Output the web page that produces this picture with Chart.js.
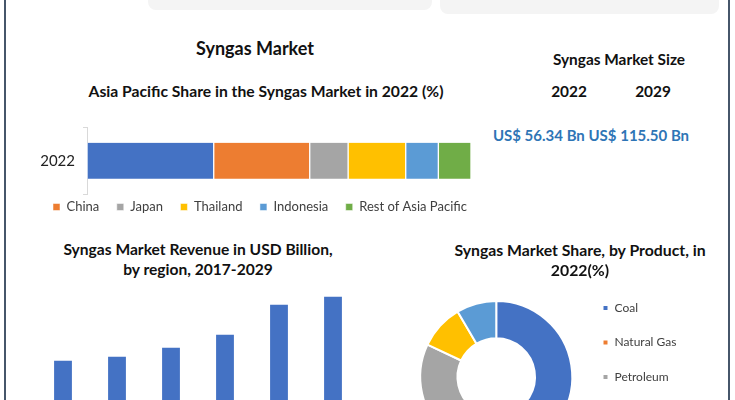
<!DOCTYPE html>
<html>
<head>
<meta charset="utf-8">
<script src="https://cdn.jsdelivr.net/npm/chart.js@4.4.0/dist/chart.umd.min.js"></script>
<style>
html,body{margin:0;padding:0;background:#fff;}
#root{position:relative;width:735px;height:400px;overflow:hidden;background:#fff;font-family:Lato,"Noto Sans",sans-serif;}
.t{position:absolute;white-space:nowrap;color:#111;font-weight:bold;transform:translate(-50%,-50%);line-height:1;}
.box{position:absolute;background:#f4f4f4;border-radius:8px;}
.frame{position:absolute;top:0;width:2px;height:400px;background:#46566a;}
canvas{position:absolute;}
</style>
</head>
<body>
<div id="root">
  <div class="box" style="left:148px;top:-10px;width:284px;height:20px;"></div>
  <div class="box" style="left:440px;top:-10px;width:279px;height:24px;"></div>
  <div class="frame" style="left:4px;"></div>
  <div class="frame" style="left:728px;"></div>

  <div style="position:absolute;left:0;top:110px;width:480px;height:125px;"><canvas id="c1"></canvas></div>
  <div style="position:absolute;left:0;top:285px;width:400px;height:215px;"><canvas id="c2"></canvas></div>
  <div style="position:absolute;left:400px;top:262px;width:324px;height:230px;"><canvas id="c3"></canvas></div>

  <div class="t" style="left:255px;top:48px;font-size:18px;">Syngas Market</div>
  <div class="t" style="left:266px;top:92px;font-size:15.7px;">Asia Pacific Share in the Syngas Market in 2022 (%)</div>
  <div class="t" style="left:619px;top:60px;font-size:15.4px;">Syngas Market Size</div>
  <div class="t" style="left:569px;top:92px;font-size:15.4px;">2022</div>
  <div class="t" style="left:653px;top:92px;font-size:15.4px;">2029</div>
  <div class="t" style="left:591px;top:135px;font-size:15px;color:#2e75b6;">US$ 56.34 Bn US$ 115.50 Bn</div>
  <div class="t" style="left:198px;top:250px;font-size:15.6px;">Syngas Market Revenue in USD Billion,</div>
  <div class="t" style="left:198px;top:270px;font-size:15.6px;">by region, 2017-2029</div>
  <div class="t" style="left:580px;top:250px;font-size:15.8px;">Syngas Market Share, by Product, in</div>
  <div class="t" style="left:580px;top:270px;font-size:15.8px;">2022(%)</div>
</div>
<script>
// ---- Data ----
const shareCategories = ['2022'];
const shareSeriesNames = ['', 'China', 'Japan', 'Thailand', 'Indonesia', 'Rest of Asia Pacific'];
const shareValues = [33, 25, 10, 15, 8.5, 8.5];
const shareColors = ['#4472c4', '#ed7d31', '#a5a5a5', '#ffc000', '#5b9bd5', '#70ad47'];

const revenueYears = ['2017', '2020', '2022', '2024', '2027', '2029'];
const revenueValues = [72.8, 75.5, 81.5, 90.2, 110.2, 115.5];

const productLabels = ['Coal', 'Natural Gas', 'Petroleum', 'Biomass/Waste', 'Others'];
const productShares = [45, 16, 21, 9.5, 8.5];
const productColors = ['#4472c4', '#ed7d31', '#a5a5a5', '#ffc000', '#5b9bd5'];

Chart.defaults.font.family = 'Lato, "Noto Sans", sans-serif';
Chart.defaults.animation = false;

// ---- Chart 1: stacked horizontal bar ----
new Chart(document.getElementById('c1'), {
  type: 'bar',
  data: {
    labels: shareCategories,
    datasets: shareSeriesNames.map((name, i) => ({
      label: name,
      data: [shareValues[i]],
      backgroundColor: shareColors[i],
      borderColor: '#ffffff',
      borderWidth: {left: 1, right: 1, top: 0, bottom: 0},
      borderSkipped: false,
      barThickness: 36
    }))
  },
  options: {
    indexAxis: 'y',
    responsive: true,
    maintainAspectRatio: false,
    layout: {padding: {top: 14, left: 0, right: 9, bottom: 0}},
    scales: {
      x: {display: false, stacked: true, min: 0, max: 100},
      y: {
        stacked: true,
        grid: {display: true, drawOnChartArea: false, offset: true, tickLength: 4, color: '#d9d9d9'},
        border: {display: true, color: '#d9d9d9'},
        ticks: {color: '#222', font: {size: 15}, padding: 8},
        afterFit(s) { s.width = 87; }
      }
    },
    plugins: {
      tooltip: {enabled: false},
      legend: {
        position: 'bottom',
        labels: {
          boxWidth: 7, boxHeight: 7, padding: 17.5, color: '#404040', font: {size: 13},
          filter: (item) => item.text !== ''
        }
      }
    }
  },
  plugins: [{
    id: 'shiftLegend',
    afterLayout(chart) {
      const L = chart.legend;
      const p = L.options.labels.padding;
      const W = L.lineWidths[0];
      const start = (L.left + p + L.right - W) / 2;
      const dx = 53 - start;
      const itemCenter = L.top + p + 6.5;
      const dy = 207 - 110 - itemCenter;
      L.left += dx; L.right += dx;
      L.top += dy; L.bottom += dy;
    }
  }]
});

// ---- Chart 2: revenue bars ----
new Chart(document.getElementById('c2'), {
  type: 'bar',
  data: {
    labels: revenueYears,
    datasets: [{
      label: 'Revenue',
      data: revenueValues,
      backgroundColor: '#4472c4',
      categoryPercentage: 1,
      barPercentage: 0.33
    }]
  },
  options: {
    responsive: true,
    maintainAspectRatio: false,
    layout: {padding: {top: 5, left: 36, right: 40, bottom: 0}},
    scales: {
      y: {display: false, min: 0, max: 120},
      x: {
        grid: {display: false},
        border: {display: true, color: '#d9d9d9'},
        ticks: {color: '#404040', font: {size: 12}},
        afterFit(s) { s.height = 30; }
      }
    },
    plugins: {legend: {display: false}, tooltip: {enabled: false}}
  }
});

// ---- Chart 3: doughnut ----
new Chart(document.getElementById('c3'), {
  type: 'doughnut',
  data: {
    labels: productLabels,
    datasets: [{
      data: productShares,
      backgroundColor: productColors,
      borderColor: '#ffffff',
      borderWidth: 2,
      radius: 76,
      cutout: '51%'
    }]
  },
  options: {
    responsive: true,
    maintainAspectRatio: false,
    layout: {padding: {left: 12.5, right: 0, top: 0, bottom: 0}},
    plugins: {
      tooltip: {enabled: false},
      legend: {
        position: 'right',
        align: 'center',
        labels: {boxWidth: 6, boxHeight: 6, padding: 22.5, color: '#404040', font: {size: 12}}
      }
    }
  },
  plugins: [{
    id: 'fixLegendWidth',
    beforeInit(chart) {
      const L = chart.legend;
      const f = L.fit;
      L.fit = function () { f.call(this); this.width = 144; };
    }
  }]
});
</script>
</body>
</html>
